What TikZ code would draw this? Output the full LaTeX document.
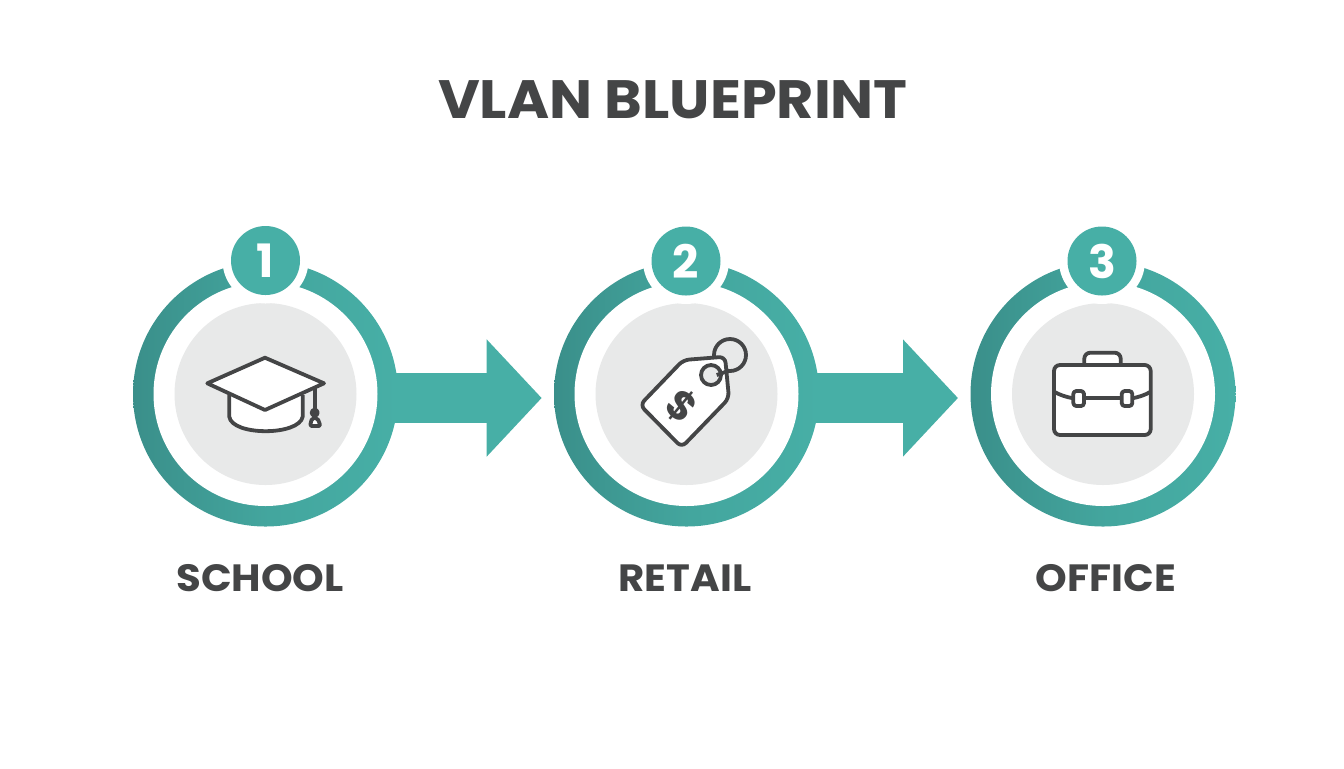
\documentclass[tikz,border=0pt]{standalone}
\usepackage{fontspec}
\setmainfont{Poppins}
\usetikzlibrary{arrows.meta, backgrounds}
\definecolor{tealdark}{HTML}{3A8F8A}
\definecolor{teallight}{HTML}{47AFA6}
\definecolor{diskgray}{HTML}{E8E9E9}
\definecolor{inkgray}{HTML}{444546}
\tikzset{
    disk/.style={circle, inner sep=0pt, minimum size=#1},
    ring/.style={disk=132.5pt, left color=tealdark, right color=teallight, middle color=teallight!70!tealdark},
    hole/.style={disk=112pt, fill=white},
    plate/.style={disk=91pt, fill=diskgray},
    halo/.style={disk=43pt, fill=white},
    badge/.style={disk=34.5pt, fill=teallight, text=white, font=\bfseries\fontsize{23}{23}\selectfont},
    flow/.style={line width=25pt, teallight, -{Triangle[length=27.5pt, width=57pt]}},
    caption/.style={xscale=1.06, text=inkgray, font=\bfseries\fontsize{19}{19}\selectfont},
    icon/.style={draw=inkgray, line width=1.9pt, line join=round, fill=white}
}
\begin{document}
\begin{tikzpicture}[x=0.5pt, y=-0.5pt]
    \useasboundingbox (0,0) rectangle (1344,768);

    % Title
    \node[xscale=1.06, text=inkgray, font=\bfseries\fontsize{27}{27}\selectfont] (title) at (673,100) {VLAN BLUEPRINT};

    % Station 1
    \node[ring] (ring1) at (265.5,394) {};
    \node[hole] (hole1) at (ring1) {};
    \node[plate] (plate1) at (ring1) {};
    \node[halo] (halo1) at (265.5,260.5) {};
    \node[badge] (badge1) at (halo1) {1};
    \node[caption] (school) at (260,578) {SCHOOL};

    % Station 2
    \node[ring] (ring2) at (686.5,394) {};
    \node[hole] (hole2) at (ring2) {};
    \node[plate] (plate2) at (ring2) {};
    \node[halo] (halo2) at (686,261) {};
    \node[badge] (badge2) at (halo2) {2};
    \node[caption] (retail) at (685,578) {RETAIL};

    % Station 3
    \node[ring] (ring3) at (1103,394) {};
    \node[hole] (hole3) at (ring3) {};
    \node[plate] (plate3) at (ring3) {};
    \node[halo] (halo3) at (1102,261) {};
    \node[badge] (badge3) at (halo3) {3};
    \node[caption] (office) at (1106,578) {OFFICE};

    % Arrows
    \coordinate (tip1) at (541.7,398);
    \coordinate (tip2) at (958,398);
    \begin{scope}[on background layer]
        \draw[flow] (ring1 |- tip1) -- (tip1);
        \draw[flow] (ring2 |- tip2) -- (tip2);
    \end{scope}

    % Cap
    \draw[icon] (229.3,395) -- (229.3,416.7) .. controls (232,436) and (299,436) .. (302.7,416.7) -- (302.7,395);
    \draw[icon] (265,357.7) -- (324,383.3) -- (265,410) -- (207.3,383.3) -- cycle;
    \draw[icon] (314.7,388) -- (314.7,410);
    \draw[icon, fill=inkgray] (314.7,412.7) circle (3);
    \draw[icon, rounded corners=1pt] (312,418) -- (310,426) -- (320.5,426) -- (317.5,418) -- cycle;

    % Tag
    \draw[icon, fill=none] (730,355) circle (16);
    \draw[icon, rounded corners=3pt] (683.3,360) -- (725,356.7) -- (729,398.3) -- (681.7,447.3) -- (640,405) -- cycle;
    \draw[icon, fill=diskgray] (711,375) circle (10);
    \draw[icon] (716.7,375) -- (729,370.7);
    \node[text=inkgray, rotate=-40, font=\bfseries\fontsize{20}{20}\selectfont] (dollar) at (681.7,406) {\$};

    % Briefcase
    \draw[icon, rounded corners=3pt] (1084.3,365) -- (1084.3,352.7) -- (1120.7,352.7) -- (1120.7,365);
    \draw[icon, rounded corners=3pt] (1054,365) rectangle (1150.7,435);
    \draw[icon, fill=none] (1054,391.7) .. controls (1060,395) and (1066,397) .. (1073.3,398.3);
    \draw[icon, fill=none] (1084,398.3) -- (1121.7,398.3);
    \draw[icon, fill=none] (1132.3,398.3) .. controls (1139,397) and (1145,395) .. (1150.7,391.7);
    \draw[icon, rounded corners=1.5pt] (1073.3,391) rectangle (1084,406);
    \draw[icon, rounded corners=1.5pt] (1121.7,391) rectangle (1132.3,406);
\end{tikzpicture}
\end{document}
